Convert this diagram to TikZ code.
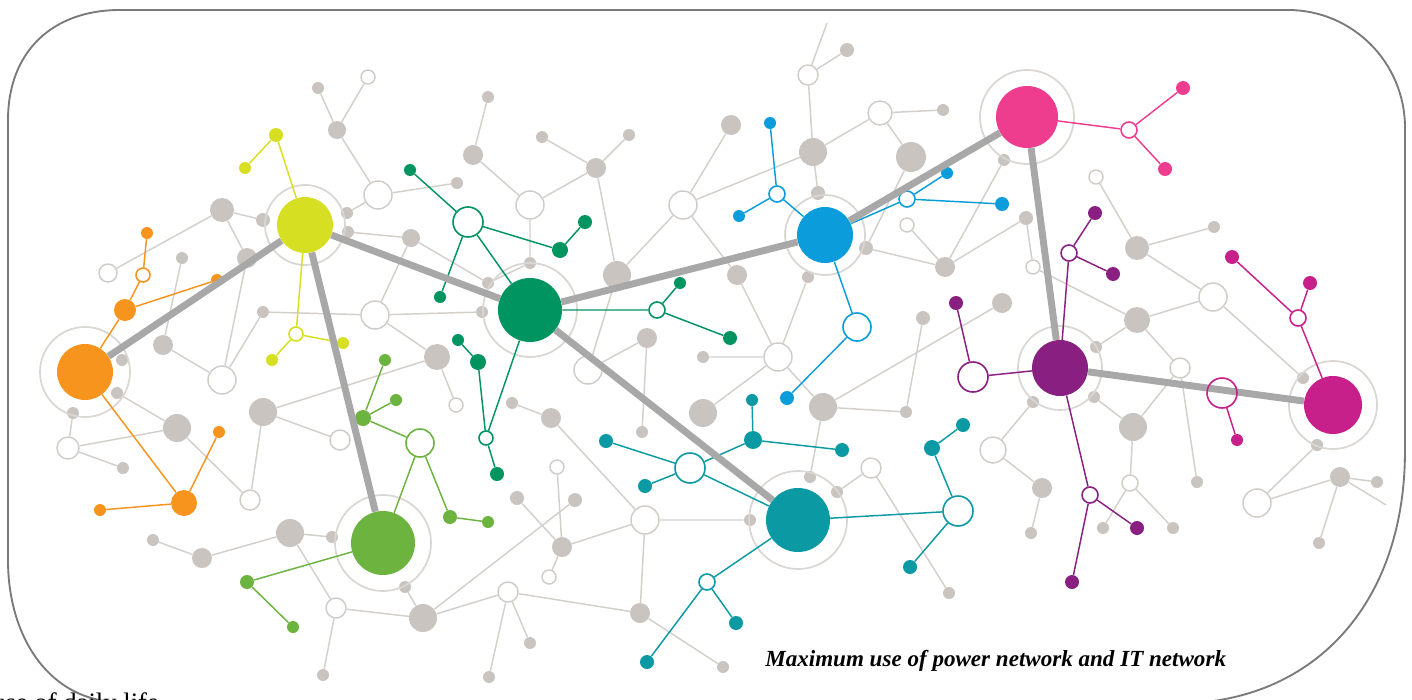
\documentclass[tikz,border=0pt]{standalone}
\usepackage{fontspec}
\setmainfont{Liberation Serif}
\usepackage{tikz}
\usetikzlibrary{positioning}

\definecolor{frameline}{HTML}{7A7A7A}
\definecolor{netgrey}{HTML}{C9C4BF}
\definecolor{linkgrey}{HTML}{D3D0CC}
\definecolor{ringgrey}{HTML}{D0CCC8}
\definecolor{halogrey}{HTML}{D9D6D3}
\definecolor{trunkgrey}{HTML}{A8A8A8}
\definecolor{netorange}{HTML}{F7941D}
\definecolor{netlime}{HTML}{D7DF23}
\definecolor{netlgreen}{HTML}{6CB33F}
\definecolor{netdgreen}{HTML}{009460}
\definecolor{netblue}{HTML}{0B9DDB}
\definecolor{netteal}{HTML}{0B9AA3}
\definecolor{netpink}{HTML}{EE3D8E}
\definecolor{netpurple}{HTML}{8A1F82}
\definecolor{netmagenta}{HTML}{C8208A}

\tikzset{
    gdot/.style={circle, fill=netgrey, inner sep=0pt, minimum size=#1*1.5pt},
    gring/.style={circle, draw=ringgrey, fill=white, line width=1.1pt, inner sep=0pt, minimum size=#1*1.5pt},
    cdot/.style 2 args={circle, fill=#1, inner sep=0pt, minimum size=#2*1.5pt},
    cring/.style 2 args={circle, draw=#1, fill=white, line width=1.2pt, inner sep=0pt, minimum size=#2*1.5pt},
    hub/.style 2 args={circle, fill=#1, inner sep=0pt, minimum size=#2*1.5pt},
    halo/.style={circle, draw=halogrey, line width=1.3pt, inner sep=0pt, minimum size=#1*1.5pt},
    glink/.style={draw=linkgrey, line width=1.1pt},
    clink/.style={draw=#1, line width=1.1pt},
    trunk/.style={draw=trunkgrey, line width=5.2pt},
    frame/.style={draw=frameline, line width=1.4pt}
}

\begin{document}
\begin{tikzpicture}[x=0.75pt, y=-0.75pt]
\useasboundingbox (0,0) rectangle (1412,699);

% frame
\draw[frame] (8,120) .. controls (8,52) and (52,10) .. (120,10) -- (1288,10)
    .. controls (1352,10) and (1405,62) .. (1405,128) -- (1405,450)
    .. controls (1405,600) and (1320,690) .. (1205,702) -- (120,702)
    .. controls (52,702) and (8,640) .. (8,560) -- cycle;

% grey network
\node[gdot=6] (g1) at (318,88) {};
\node[gring=7] (o1) at (368,77) {};
\node[gdot=9] (g2) at (337,130) {};
\node[gring=14] (o2) at (378,195) {};
\node[gdot=12] (g3) at (222,210) {};
\node[gdot=7] (g4) at (263,220) {};
\node[gdot=6] (g5) at (347,213) {};
\node[gdot=6] (g6) at (348,232) {};
\node[gdot=9] (g7) at (411,238) {};
\node[gdot=6] (g8) at (457,183) {};
\node[gdot=10] (g9) at (473,155) {};
\node[gdot=6] (g10) at (488,97) {};
\node[gdot=10] (g11) at (247,258) {};
\node[gdot=6] (g12) at (182,258) {};
\node[gring=9] (o3) at (108,273) {};
\node[gdot=6] (g13) at (263,312) {};
\node[gring=14] (o4) at (375,315) {};
\node[gdot=10] (g14) at (163,345) {};
\node[gring=14] (o5) at (222,380) {};
\node[gdot=6] (g15) at (122,360) {};
\node[gdot=6] (g16) at (117,393) {};
\node[gdot=6] (g17) at (73,413) {};
\node[gring=11] (o6) at (68,448) {};
\node[gdot=6] (g18) at (123,468) {};
\node[gdot=14] (g19) at (177,428) {};
\node[gdot=14] (g20) at (263,412) {};
\node[gring=10] (o7) at (340,440) {};
\node[gring=10] (o8) at (250,500) {};
\node[gdot=6] (g21) at (153,540) {};
\node[gdot=10] (g22) at (202,558) {};
\node[gdot=14] (g23) at (290,533) {};
\node[gdot=6] (g24) at (332,537) {};
\node[gdot=6] (g25) at (405,587) {};
\node[gring=10] (o9) at (336,608) {};
\node[gdot=14] (g26) at (423,618) {};
\node[gdot=6] (g27) at (323,675) {};
\node[gdot=13] (g28) at (437,357) {};
\node[gring=7] (o10) at (456,405) {};
\node[gdot=6] (g29) at (542,137) {};
\node[gdot=6] (g30) at (629,135) {};
\node[gdot=10] (g31) at (596,168) {};
\node[gring=14] (o11) at (530,205) {};
\node[gdot=6] (g32) at (530,263) {};
\node[gdot=6] (g33) at (488,283) {};
\node[gdot=6] (g34) at (482,312) {};
\node[gdot=14] (g35) at (617,275) {};
\node[gdot=10] (g36) at (731,125) {};
\node[gring=14] (o12) at (683,205) {};
\node[gring=10] (o13) at (808,75) {};
\node[gdot=7] (g37) at (847,50) {};
\coordinate (tp) at (827,23);
\node[gdot=14] (g38) at (813,152) {};
\node[gdot=7] (g39) at (818,193) {};
\node[gring=12] (o14) at (880,113) {};
\node[gdot=6] (g40) at (943,110) {};
\node[gdot=15] (g41) at (911,157) {};
\node[gdot=10] (g42) at (737,275) {};
\node[gdot=6] (g43) at (808,277) {};
\node[gdot=10] (g44) at (647,338) {};
\node[gring=14] (o15) at (588,370) {};
\node[gdot=6] (g45) at (703,357) {};
\node[gring=14] (o16) at (778,357) {};
\node[gdot=14] (g46) at (703,413) {};
\node[gdot=14] (g47) at (823,407) {};
\node[gdot=6] (g48) at (512,403) {};
\node[gdot=10] (g49) at (551,418) {};
\node[gdot=6] (g50) at (642,432) {};
\node[gring=7] (o17) at (557,467) {};
\node[gdot=7] (g51) at (517,498) {};
\node[gdot=7] (g52) at (575,500) {};
\node[gdot=10] (g53) at (562,547) {};
\node[gring=7] (o18) at (549,577) {};
\node[gring=10] (o19) at (508,592) {};
\node[gdot=6] (g54) at (530,643) {};
\node[gdot=6] (g55) at (489,677) {};
\node[gring=14] (o20) at (645,520) {};
\node[gdot=10] (g56) at (640,613) {};
\node[gdot=6] (g57) at (723,667) {};
\node[gdot=6] (g58) at (750,520) {};
\node[gdot=6] (g59) at (810,477) {};
\node[gdot=6] (g60) at (837,492) {};
\node[gring=10] (o21) at (871,468) {};
\node[gdot=6] (g61) at (949,593) {};
\node[gdot=6] (g62) at (1004,160) {};
\node[gring=7] (o22) at (907,225) {};
\node[gdot=7] (g63) at (866,248) {};
\node[gdot=10] (g64) at (945,267) {};
\node[gdot=7] (g65) at (1026,218) {};
\node[gring=7] (o23) at (1033,267) {};
\node[gring=7] (o24) at (1096,177) {};
\node[gdot=12] (g66) at (1137,248) {};
\node[gdot=6] (g67) at (1214,227) {};
\node[gring=14] (o25) at (1213,297) {};
\node[gdot=13] (g68) at (1137,320) {};
\node[gdot=10] (g69) at (1002,303) {};
\node[gdot=7] (g70) at (923,318) {};
\node[gdot=6] (g71) at (906,412) {};
\node[gdot=6] (g72) at (1096,347) {};
\node[gdot=6] (g73) at (1033,402) {};
\node[gdot=6] (g74) at (1094,397) {};
\node[gdot=14] (g75) at (1133,427) {};
\node[gring=10] (o26) at (1180,368) {};
\node[gdot=6] (g76) at (1303,378) {};
\node[gdot=6] (g77) at (1317,445) {};
\node[gdot=6] (g78) at (1197,482) {};
\node[gdot=10] (g79) at (1340,477) {};
\node[gdot=6] (g80) at (1377,482) {};
\node[gring=14] (o27) at (1257,503) {};
\node[gdot=6] (g81) at (1319,543) {};
\coordinate (rp) at (1386,505);
\node[gring=13] (o28) at (993,450) {};
\node[gdot=10] (g82) at (1042,488) {};
\node[gdot=6] (g83) at (1031,533) {};
\node[gring=8] (o29) at (1130,483) {};
\node[gdot=6] (g84) at (1103,528) {};
\node[gdot=6] (g85) at (1173,528) {};

\draw[glink]
    (g1) -- (g2) (o1) -- (g2) (g2) -- (o2) (o2) -- (g8) (o2) -- (g5)
    (g3) -- (g4) (g3) -- (o3) (g3) -- (g11) (g11) -- (o5)
    (g12) -- (g14) (g14) -- (o5) (o5) -- (g13) (g13) -- (o4)
    (o4) -- (g7) (g6) -- (g7) (o4) -- (g28) (o4) -- (g34)
    (g28) -- (o10) (g20) -- (g28) (g20) -- (o7) (g20) -- (o8)
    (g19) -- (o8) (g16) -- (g19) (g17) -- (o6) (o6) -- (g18) (o6) -- (g19)
    (g21) -- (g22) (g22) -- (g23) (g23) -- (g24) (g23) -- (o9)
    (o9) -- (g26) (g25) -- (g26) (o9) -- (g27) (g26) -- (o19) (g26) -- (g52)
    (g9) -- (g10) (g9) -- (o11)
    (o11) -- (g31) (g31) -- (g29) (g31) -- (g30) (g31) -- (g35)
    (o11) -- (g32) (g7) -- (g33) (g33) -- (g32)
    (g35) -- (o12) (o12) -- (g36) (o12) -- (g38)
    (o13) -- (g37) (o13) -- (tp) (o13) -- (g38) (g38) -- (o14)
    (o14) -- (g40) (o14) -- (g41) (g38) -- (g39) (g41) -- (g63)
    (g35) -- (o15) (o15) -- (g44) (g44) -- (g50) (o12) -- (g42)
    (g42) -- (o16) (g43) -- (o16) (g45) -- (o16) (o16) -- (g47) (o16) -- (g46)
    (g48) -- (g49) (g49) -- (o20) (o17) -- (g53) (g51) -- (g53)
    (g53) -- (o18) (g53) -- (o20) (o19) -- (g54) (o19) -- (g55)
    (o19) -- (g56) (g56) -- (o20) (g56) -- (g57) (o20) -- (g58)
    (g47) -- (g69) (g47) -- (g71) (g71) -- (g70) (g47) -- (g59)
    (o21) -- (g61) (g60) -- (o21)
    (g62) -- (g64) (o22) -- (g64) (g63) -- (g64) (g64) -- (g65)
    (g65) -- (o23) (o23) -- (g68) (o24) -- (g66) (g66) -- (g67)
    (g66) -- (o25) (o25) -- (g68) (o25) -- (g76) (g68) -- (g72)
    (g68) -- (o26) (o26) -- (g78) (o26) -- (g75) (g74) -- (g75)
    (g75) -- (o29) (o29) -- (g84) (o29) -- (g85)
    (o28) -- (g73) (o28) -- (g82) (g82) -- (g83)
    (g77) -- (o27) (o27) -- (g79) (g79) -- (g80) (g79) -- (g81) (g79) -- (rp);

% hubs and their rings
\node[halo=45] (orHalo) at (85,372) {};
\node[hub={netorange}{28}] (orHub) at (85,372) {};
\node[halo=40] (liHalo) at (305,225) {};
\node[hub={netlime}{28}] (liHub) at (305,225) {};
\node[halo=48] (lgHalo) at (383,543) {};
\node[hub={netlgreen}{32}] (lgHub) at (383,543) {};
\node[halo=47] (dgHalo) at (530,310) {};
\node[hub={netdgreen}{32}] (dgHub) at (530,310) {};
\node[halo=40] (blHalo) at (825,235) {};
\node[hub={netblue}{28}] (blHub) at (825,235) {};
\node[halo=49] (tlHalo) at (798,520) {};
\node[hub={netteal}{32}] (tlHub) at (798,520) {};
\node[halo=47] (pkHalo) at (1027,117) {};
\node[hub={netpink}{31}] (pkHub) at (1027,117) {};
\node[halo=42] (puHalo) at (1060,368) {};
\node[hub={netpurple}{28}] (puHub) at (1060,368) {};
\node[halo=44] (mgHalo) at (1333,405) {};
\node[hub={netmagenta}{29}] (mgHub) at (1333,405) {};

% orange
\node[cdot={netorange}{11}] (or1) at (125,310) {};
\node[cring={netorange}{7}] (or2) at (143,275) {};
\node[cdot={netorange}{6}] (or3) at (147,233) {};
\node[cdot={netorange}{6}] (or4) at (217,280) {};
\node[cdot={netorange}{13}] (or5) at (184,503) {};
\node[cdot={netorange}{6}] (or6) at (100,510) {};
\node[cdot={netorange}{6}] (or7) at (219,432) {};
% lime
\node[cdot={netlime}{7}] (li1) at (276,135) {};
\node[cdot={netlime}{6}] (li2) at (245,168) {};
\node[cring={netlime}{7}] (li3) at (296,334) {};
\node[cdot={netlime}{6}] (li4) at (343,343) {};
\node[cdot={netlime}{6}] (li5) at (272,360) {};
% light green
\node[cring={netlgreen}{14}] (lg1) at (420,443) {};
\node[cdot={netlgreen}{8}] (lg2) at (363,418) {};
\node[cdot={netlgreen}{6}] (lg3) at (385,360) {};
\node[cdot={netlgreen}{6}] (lg4) at (396,400) {};
\node[cdot={netlgreen}{7}] (lg5) at (450,517) {};
\node[cdot={netlgreen}{6}] (lg6) at (488,522) {};
\node[cdot={netlgreen}{7}] (lg7) at (247,582) {};
\node[cdot={netlgreen}{6}] (lg8) at (293,627) {};
% dark green
\node[cring={netdgreen}{15}] (dg1) at (468,222) {};
\node[cdot={netdgreen}{6}] (dg2) at (410,170) {};
\node[cdot={netdgreen}{6}] (dg3) at (440,297) {};
\node[cdot={netdgreen}{8}] (dg4) at (560,250) {};
\node[cdot={netdgreen}{7}] (dg5) at (585,222) {};
\node[cdot={netdgreen}{6}] (dg6) at (458,340) {};
\node[cdot={netdgreen}{8}] (dg7) at (478,362) {};
\node[cring={netdgreen}{7}] (dg8) at (486,438) {};
\node[cdot={netdgreen}{7}] (dg9) at (497,474) {};
\node[cring={netdgreen}{8}] (dg10) at (657,310) {};
\node[cdot={netdgreen}{6}] (dg11) at (680,283) {};
\node[cdot={netdgreen}{7}] (dg12) at (730,338) {};
% blue
\node[cdot={netblue}{6}] (bl1) at (770,123) {};
\node[cring={netblue}{8}] (bl2) at (777,194) {};
\node[cdot={netblue}{6}] (bl3) at (739,216) {};
\node[cring={netblue}{8}] (bl4) at (907,199) {};
\node[cdot={netblue}{6}] (bl5) at (947,173) {};
\node[cdot={netblue}{7}] (bl6) at (1002,204) {};
\node[cring={netblue}{14}] (bl7) at (857,327) {};
\node[cdot={netblue}{7}] (bl8) at (787,398) {};
% teal
\node[cring={netteal}{15}] (tl1) at (690,468) {};
\node[cdot={netteal}{7}] (tl2) at (606,441) {};
\node[cdot={netteal}{7}] (tl3) at (645,486) {};
\node[cdot={netteal}{9}] (tl4) at (753,440) {};
\node[cdot={netteal}{6}] (tl5) at (752,400) {};
\node[cdot={netteal}{7}] (tl6) at (842,450) {};
\node[cring={netteal}{8}] (tl7) at (707,582) {};
\node[cdot={netteal}{7}] (tl8) at (736,623) {};
\node[cdot={netteal}{7}] (tl9) at (647,662) {};
\node[cring={netteal}{15}] (tl10) at (958,511) {};
\node[cdot={netteal}{8}] (tl11) at (932,448) {};
\node[cdot={netteal}{7}] (tl12) at (963,425) {};
\node[cdot={netteal}{7}] (tl13) at (910,567) {};
% pink
\node[cring={netpink}{8}] (pk1) at (1129,130) {};
\node[cdot={netpink}{7}] (pk2) at (1183,88) {};
\node[cdot={netpink}{7}] (pk3) at (1165,169) {};
% purple
\node[cring={netpurple}{8}] (pu1) at (1069,253) {};
\node[cdot={netpurple}{7}] (pu2) at (1095,213) {};
\node[cdot={netpurple}{7}] (pu3) at (1113,274) {};
\node[cdot={netpurple}{7}] (pu4) at (956,303) {};
\node[cring={netpurple}{15}] (pu5) at (973,377) {};
\node[cring={netpurple}{8}] (pu6) at (1090,495) {};
\node[cdot={netpurple}{7}] (pu7) at (1137,528) {};
\node[cdot={netpurple}{7}] (pu8) at (1072,582) {};
% magenta
\node[cdot={netmagenta}{6}] (mg2) at (1237,440) {};
\node[cring={netmagenta}{8}] (mg3) at (1298,318) {};
\node[cdot={netmagenta}{7}] (mg4) at (1232,257) {};
\node[cdot={netmagenta}{7}] (mg5) at (1310,283) {};

\draw[clink=netorange] (orHub) -- (or1) (or1) -- (or2) (or2) -- (or3) (or1) -- (or4)
    (orHub) -- (or5) (or5) -- (or6) (or5) -- (or7);
\draw[clink=netlime] (liHub) -- (li1) (li1) -- (li2) (liHub) -- (li3) (li3) -- (li4) (li3) -- (li5);
\draw[clink=netlgreen] (lgHub) -- (lg1) (lg1) -- (lg5) (lg5) -- (lg6) (lg2) -- (lg1)
    (lg2) -- (lg3) (lg2) -- (lg4) (lgHub) -- (lg7) (lg7) -- (lg8);
\draw[clink=netdgreen] (dgHub) -- (dg1) (dg1) -- (dg2) (dg1) -- (dg3) (dg1) -- (dg4) (dg4) -- (dg5)
    (dg6) -- (dg7) (dg7) -- (dg8) (dgHub) -- (dg8) (dg8) -- (dg9)
    (dgHub) -- (dg10) (dg10) -- (dg11) (dg10) -- (dg12);
\draw[clink=netblue] (bl1) -- (bl2) (bl2) -- (blHub) (bl2) -- (bl3) (blHub) -- (bl4)
    (bl4) -- (bl5) (bl4) -- (bl6) (blHub) -- (bl7) (bl7) -- (bl8);
\draw[clink=netteal] (tlHub) -- (tl1) (tl1) -- (tl2) (tl1) -- (tl3) (tl1) -- (tl4) (tl4) -- (tl5)
    (tl4) -- (tl6) (tlHub) -- (tl7) (tl7) -- (tl8) (tl7) -- (tl9)
    (tlHub) -- (tl10) (tl10) -- (tl11) (tl11) -- (tl12) (tl10) -- (tl13);
\draw[clink=netpink] (pkHub) -- (pk1) (pk1) -- (pk2) (pk1) -- (pk3);
\draw[clink=netpurple] (puHub) -- (pu1) (pu1) -- (pu2) (pu1) -- (pu3) (pu4) -- (pu5) (pu5) -- (puHub)
    (puHub) -- (pu6) (pu6) -- (pu7) (pu6) -- (pu8);
\draw[clink=netmagenta] (mgHub) -- (mg3) (mg3) -- (mg4) (mg3) -- (mg5);

% trunk lines between the hubs
\draw[trunk]
    (orHub) -- (liHub) (liHub) -- (dgHub) (liHub) -- (lgHub)
    (dgHub) -- (blHub) (dgHub) -- (tlHub) (blHub) -- (pkHub)
    (pkHub) -- (puHub) (puHub) -- (mgHub);
\node[cring={netmagenta}{15}, fill=none] (mg1) at (1222,393) {};
\draw[clink=netmagenta] (mg1) -- (mg2);

% texts
\node[anchor=base west, inner sep=0pt, font=\fontsize{17.3}{20}\selectfont\bfseries\itshape] (cap) at (765,666) {Maximum use of power network and IT network};
\node[anchor=base west, inner sep=0pt, font=\fontsize{20}{24}\selectfont] (life) at (-8,711) {use of daily life};
\end{tikzpicture}
\end{document}
